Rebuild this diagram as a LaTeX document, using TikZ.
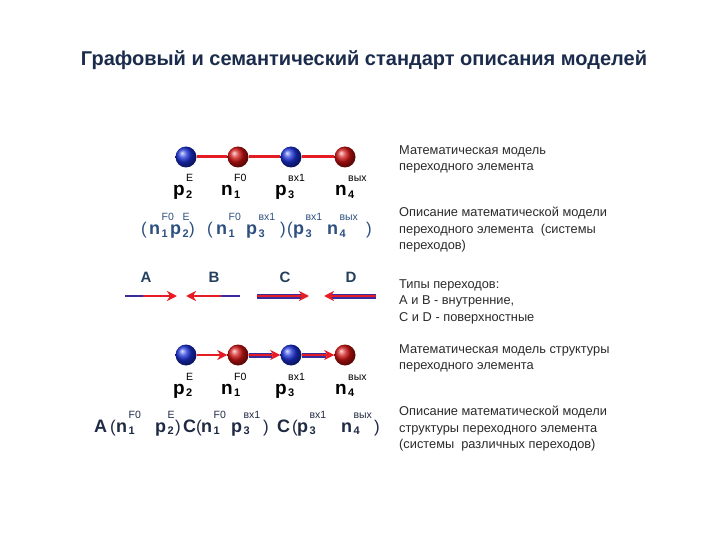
\documentclass[tikz,border=0pt]{standalone}
\usepackage{fontspec}
\setmainfont{Liberation Sans}
\usetikzlibrary{positioning,calc,arrows.meta}

\definecolor{titleblue}{HTML}{1B2B4B}
\definecolor{labelblue}{HTML}{24405C}
\definecolor{formblue}{HTML}{2D5080}
\definecolor{formdark}{HTML}{1F2A44}
\definecolor{ballred}{HTML}{D01212}
\definecolor{ballblue}{HTML}{1A30D8}
\definecolor{linkred}{HTML}{E61C24}
\definecolor{linkblue}{HTML}{3A2C9C}
\definecolor{notegray}{HTML}{2A2A2A}

\tikzset{
  ballp/.style={circle, minimum size=21pt, inner sep=0pt, shading=ball, ball color=ballblue},
  balln/.style={circle, minimum size=21pt, inner sep=0pt, shading=ball, ball color=ballred},
  bigl/.style={font=\fontsize{19}{19}\selectfont\bfseries, inner sep=0pt},
  midl/.style={font=\fontsize{18}{18}\selectfont\bfseries, inner sep=0pt},
  brk/.style={font=\fontsize{17}{17}\selectfont, inner sep=0pt, anchor=base west},
  lsub/.style={font=\fontsize{11}{11}\selectfont\bfseries, inner sep=0pt},
  lsup/.style={font=\fontsize{10.5}{10.5}\selectfont, inner sep=0pt},
  kind/.style={font=\fontsize{15}{15}\selectfont\bfseries, text=labelblue, inner sep=0pt},
  note/.style={font=\fontsize{12.8}{16.5}\selectfont, text=notegray, align=left, anchor=north west, inner sep=0pt},
  link/.style={linkred, line width=3pt},
  tipin/.style={-{Stealth[length=10pt,width=10pt,inset=3pt]}},
}

% letter with subscript and superscript
\newcommand{\elm}[7]{%
  \node[#7, anchor=base west] (#1) at (#2,#3) {#4};
  \node[lsub, anchor=base west] (#1-sub) at ([xshift=1pt,yshift=-2.5pt]#1.base east) {#5};
  \node[lsup, anchor=base west] (#1-sup) at ([xshift=1pt,yshift=14pt]#1.base east) {#6};
}

\begin{document}
\begin{tikzpicture}[x=1pt,y=-1pt]
  \useasboundingbox (0,0) rectangle (720,540);

  % title
  \node[font=\fontsize{20}{20}\selectfont\bfseries, text=titleblue] (title) at (364,60) {Графовый и семантический стандарт описания моделей};

  % model of the element
  \node[ballp] (tp2) at (186,157) {};
  \node[balln] (tn1) at (238,157) {};
  \node[ballp] (tp3) at (291,157) {};
  \node[balln] (tn4) at (345,157) {};
  \draw[link] (tp2) -- (tn1);
  \draw[link] (tn1) -- (tp3);
  \draw[link] (tp3) -- (tn4);

  \elm{ap2}{173}{196}{p}{2}{E}{bigl}
  \elm{an1}{221}{196}{n}{1}{F0}{bigl}
  \elm{ap3}{275}{196}{p}{3}{вх1}{bigl}
  \elm{an4}{335}{196}{n}{4}{вых}{bigl}

  % description of the model
  \begin{scope}[text=formblue]
  \node[brk] (b1) at (141,235) {(};
  \elm{bn1}{149}{235}{n}{1}{F0}{midl}
  \elm{bp2}{170}{235}{p}{2}{E}{midl}
  \node[brk] (b2) at (189,235) {)};
  \node[brk] (b3) at (207,235) {(};
  \elm{bn1x}{216}{235}{n}{1}{F0}{midl}
  \elm{bp3}{246}{235}{p}{3}{вх1}{midl}
  \node[brk] (b4) at (280,235) {)};
  \node[brk] (b5) at (287,235) {(};
  \elm{bp3x}{293}{235}{p}{3}{вх1}{midl}
  \elm{bn4}{327}{235}{n}{4}{вых}{midl}
  \node[brk] (b6) at (366,235) {)};
  \end{scope}

  % transition kinds
  \node[kind] (kA) at (146,277) {A};
  \node[kind] (kB) at (214,277) {B};
  \node[kind] (kC) at (285,277) {C};
  \node[kind] (kD) at (351,277) {D};
  \coordinate (aA1) at (125,296);
  \coordinate (aA2) at (177,296);
  \coordinate (aB1) at (240,296);
  \coordinate (aB2) at (186,296);
  \coordinate (aC1) at (257,296);
  \coordinate (aC2) at (309,296);
  \coordinate (aD1) at (376,296);
  \coordinate (aD2) at (324,296);
  \draw[linkblue, line width=2.4pt, shorten >=6pt] (aA1) -- (aA2);
  \draw[linkred, line width=2pt, tipin] ($(aA1)!0.35!(aA2)$) -- (aA2);
  \draw[linkblue, line width=2.4pt, shorten >=6pt] (aB1) -- (aB2);
  \draw[linkred, line width=2pt, tipin] ($(aB1)!0.35!(aB2)$) -- (aB2);
  \draw[linkblue, line width=5pt, shorten >=8pt] (aC1) -- (aC2);
  \draw[linkred, line width=2.2pt, tipin] (aC1) -- (aC2);
  \draw[linkblue, line width=5pt, shorten >=8pt] (aD1) -- (aD2);
  \draw[linkred, line width=2.2pt, tipin] (aD1) -- (aD2);

  % model of the structure
  \node[ballp] (sp2) at (186,355) {};
  \node[balln] (sn1) at (238,355) {};
  \node[ballp] (sp3) at (291,355) {};
  \node[balln] (sn4) at (345,355) {};
  \draw[linkblue, line width=2.4pt, shorten >=6pt] (sp2) -- (sn1);
  \draw[linkred, line width=2pt, tipin] (sp2) -- (sn1);
  \draw[linkblue, line width=5pt, shorten >=8pt] (sn1) -- (sp3);
  \draw[linkred, line width=2.2pt, tipin] (sn1) -- (sp3);
  \draw[linkblue, line width=5pt, shorten >=8pt] (sp3) -- (sn4);
  \draw[linkred, line width=2.2pt, tipin] (sp3) -- (sn4);

  \elm{cp2}{173}{394}{p}{2}{E}{bigl}
  \elm{cn1}{221}{394}{n}{1}{F0}{bigl}
  \elm{cp3}{275}{394}{p}{3}{вх1}{bigl}
  \elm{cn4}{335}{394}{n}{4}{вых}{bigl}

  % description of the structure
  \begin{scope}[text=formdark]
  \node[midl, anchor=base west] (dA) at (94,432) {A};
  \node[brk] (d1) at (110,432) {(};
  \elm{dn1}{116}{432}{n}{1}{F0}{midl}
  \elm{dp2}{155}{432}{p}{2}{E}{midl}
  \node[brk] (d2) at (175,432) {)};
  \node[midl, anchor=base west] (dC1) at (183,432) {C};
  \node[brk] (d3) at (196,432) {(};
  \elm{dn1x}{201}{432}{n}{1}{F0}{midl}
  \elm{dp3}{231}{432}{p}{3}{вх1}{midl}
  \node[brk] (d4) at (263,432) {)};
  \node[midl, anchor=base west] (dC2) at (277,432) {C};
  \node[brk] (d5) at (292,432) {(};
  \elm{dp3x}{297}{432}{p}{3}{вх1}{midl}
  \elm{dn4}{341}{432}{n}{4}{вых}{midl}
  \node[brk] (d6) at (374,432) {)};
  \end{scope}

  % notes
  \node[note] (t1) at (399,145) {Математическая модель\\переходного элемента};
  \node[note] (t2) at (399,207) {Описание математической модели\\переходного элемента\ \ (системы\\переходов)};
  \node[note] (t3) at (399,279) {Типы переходов:\\А и В - внутренние,\\С и D - поверхностные};
  \node[note] (t4) at (399,344) {Математическая модель структуры\\переходного элемента};
  \node[note] (t5) at (399,406) {Описание математической модели\\структуры переходного элемента\\(системы\ \ различных переходов)};
\end{tikzpicture}
\end{document}
